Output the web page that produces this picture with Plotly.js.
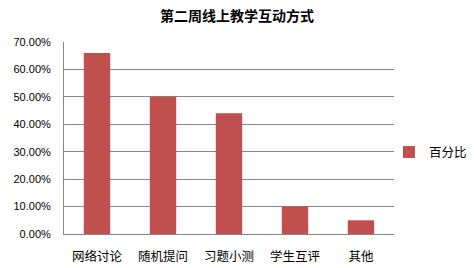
<!DOCTYPE html>
<html>
<head>
<meta charset="utf-8">
<script src="https://cdn.plot.ly/plotly-3.0.1.min.js"></script>
<style>html,body{margin:0;padding:0;background:#fff;}#chart{width:474px;height:268px;}</style>
</head>
<body>
<div id="chart"></div>
<script>
const chartTitle = "第二周线上教学互动方式";
const categories = ["网络讨论", "随机提问", "习题小测", "学生互评", "其他"];
const seriesName = "百分比";
const values = [0.66, 0.50, 0.44, 0.10, 0.05];
const yTickValues = [0, 0.1, 0.2, 0.3, 0.4, 0.5, 0.6, 0.7];

const cjk = '"Noto Sans CJK SC", "Noto Sans", sans-serif';
const trace = {
  type: 'bar',
  x: categories,
  y: values,
  name: seriesName,
  marker: {color: '#C0504D'},
  hoverinfo: 'none'
};
const layout = {
  width: 474, height: 268,
  margin: {l: 64, r: 80, t: 42, b: 34, pad: 0, autoexpand: false},
  paper_bgcolor: '#ffffff', plot_bgcolor: '#ffffff',
  bargap: 0.6,
  title: {
    text: '<b>' + chartTitle + '</b>',
    font: {family: cjk, size: 14, color: '#000000'},
    x: 0.5, xanchor: 'center', xref: 'container',
    y: 1 - 16/268, yanchor: 'middle', yref: 'container'
  },
  showlegend: true,
  legend: {
    x: (389 - 64) / (474 - 64 - 80), xanchor: 'left',
    y: 0.425, yanchor: 'middle',
    font: {family: cjk, size: 12.5, color: '#000000'},
    bgcolor: 'rgba(0,0,0,0)', borderwidth: 0
  },
  xaxis: {
    type: 'category',
    showgrid: false,
    showline: true, linecolor: '#878787', linewidth: 1,
    ticks: '', ticklabelstandoff: 11,
    tickfont: {family: cjk, size: 12.5, color: '#000000'},
    fixedrange: true
  },
  yaxis: {
    range: [0, 0.7],
    tickvals: yTickValues,
    tickformat: '.2%',
    showgrid: true, gridcolor: '#878787', gridwidth: 1,
    showline: true, linecolor: '#878787', linewidth: 1,
    zeroline: false,
    ticks: '', ticklabelstandoff: 10,
    tickfont: {family: '"Liberation Sans", Arial, sans-serif', size: 11, color: '#000000'},
    fixedrange: true
  }
};
Plotly.newPlot('chart', [trace], layout, {displayModeBar: false, staticPlot: true});
</script>
</body>
</html>
